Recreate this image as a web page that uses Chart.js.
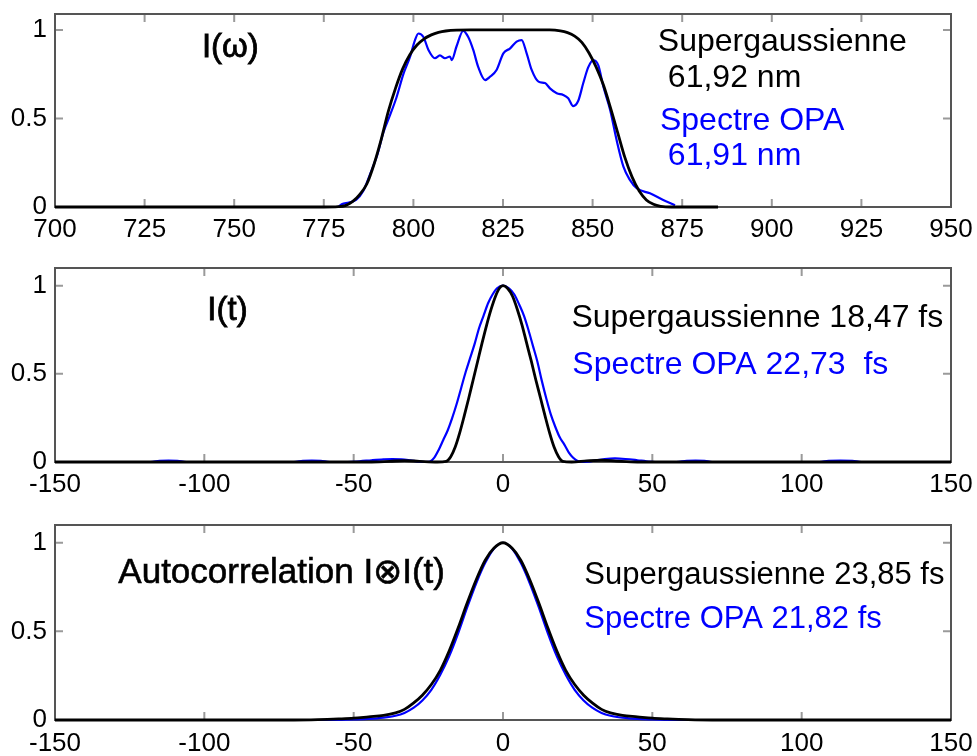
<!DOCTYPE html>
<html>
<head>
<meta charset="utf-8">
<script src="https://cdn.jsdelivr.net/npm/chart.js@4.4.1/dist/chart.umd.min.js"></script>
<style>
    html, body { margin: 0; padding: 0; background: #fff; }
    #wrap { position: relative; width: 977px; height: 756px; }
    canvas { position: absolute; left: 0; }
</style>
</head>
<body>
<div id="wrap">
    <canvas id="spectre" width="977" height="250" style="top:0"></canvas>
    <canvas id="impulsion" width="977" height="250" style="top:255px"></canvas>
    <canvas id="autocorr" width="977" height="245" style="top:511px"></canvas>
</div>
<script>
// Tick labels
var nmTicks = [700, 725, 750, 775, 800, 825, 850, 875, 900, 925, 950];
var fsTicks = [-150, -100, -50, 0, 50, 100, 150];
var yTicks = [0, 0.5, 1];

// I(omega) - supergaussienne (black)
var specSgX = [700, 775, 779, 781, 783, 785, 787, 789, 791, 793, 795, 797, 799, 801, 803, 805, 807, 809, 812, 816,
    838, 841, 843, 845, 847, 849, 851, 853, 855, 857, 859, 861, 863, 865, 867, 869, 872, 885];
var specSgY = [0, 0, 0.002, 0.008, 0.03, 0.07, 0.13, 0.24, 0.38, 0.54, 0.67, 0.78, 0.86, 0.915, 0.95, 0.972, 0.986, 0.994, 0.999, 1,
    1, 0.995, 0.985, 0.965, 0.93, 0.87, 0.79, 0.69, 0.56, 0.42, 0.28, 0.17, 0.09, 0.04, 0.015, 0.004, 0, 0];

// I(omega) - spectre OPA (blue)
var specOpaX = [779, 780, 782, 784, 786, 788, 790, 791.6, 793.5, 795.3, 797.2, 799.1, 800.4, 801.4, 802.8, 804.2, 806,
    807.4, 808.8, 810.2, 810.7, 812, 813.9, 815.3, 816.7, 818.1, 820, 821.4, 823.2, 825.1, 827, 828.8, 830.2, 831.6,
    833, 834.9, 836.7, 838.1, 840, 841.8, 843.2, 844.6, 846, 847.4, 848.8, 850.2, 851.6, 853, 854.9, 856.7, 858.6,
    860.4, 862.3, 866, 869.7, 873];
var specOpaY = [0, 0.015, 0.025, 0.04, 0.09, 0.19, 0.3, 0.42, 0.52, 0.62, 0.75, 0.85, 0.94, 0.98, 0.96, 0.887, 0.84,
    0.856, 0.84, 0.85, 0.83, 0.905, 0.995, 0.96, 0.887, 0.79, 0.717, 0.736, 0.774, 0.868, 0.896, 0.934, 0.943, 0.868,
    0.774, 0.708, 0.7, 0.67, 0.642, 0.633, 0.614, 0.57, 0.6, 0.7, 0.79, 0.83, 0.8, 0.68, 0.548, 0.378, 0.228,
    0.153, 0.106, 0.077, 0.04, 0.01];

// I(t) - supergaussienne (black)
var pulseSgX = [-150, -45, -38, -33, -28, -22, -19, -17.5, -16, -14.5, -13, -11.5, -10, -8.5, -7, -5.5, -4, -2.5, -1.2, 0,
    1.5, 3.2, 4.8, 6.4, 7.9, 9.5, 11, 12.6, 14.1, 15.6, 17.1, 18.6, 20, 23, 28, 33, 38, 45, 150];
var pulseSgY = [0, 0, 0.004, 0.008, 0.004, 0, 0.004, 0.03, 0.085, 0.165, 0.26, 0.36, 0.465, 0.57, 0.675, 0.775, 0.865, 0.94, 0.985, 1,
    0.985, 0.94, 0.865, 0.775, 0.675, 0.57, 0.465, 0.36, 0.26, 0.165, 0.085, 0.03, 0.004, 0, 0.006, 0.01, 0.005, 0, 0];

// I(t) - spectre OPA (blue)
var pulseOpaX = [-150, -118, -115, -112, -109, -106, -70, -67, -64, -61, -58, -52, -48, -44, -40, -37, -34, -31, -28, -26,
    -24.4, -23, -21.5, -20, -18.5, -17, -15.5, -14, -12.5, -11, -9.5, -8, -6.5, -5, -3.5, -2, 0,
    2, 3.8, 5.5, 7, 8.5, 10, 11.5, 13, 14.5, 16, 17.5, 19, 20.5, 22, 23.5, 25, 27,
    30, 34, 37.5, 41, 45, 48, 51, 58, 61.5, 64.5, 67.5, 70, 106, 109, 113, 117, 120, 150];
var pulseOpaY = [0, 0, 0.007, 0.008, 0.007, 0, 0, 0.007, 0.008, 0.007, 0, 0, 0.004, 0.01, 0.015, 0.017, 0.015, 0.009, 0.002, 0,
    0.003, 0.025, 0.07, 0.125, 0.18, 0.25, 0.33, 0.42, 0.51, 0.59, 0.67, 0.76, 0.83, 0.9, 0.95, 0.985, 1,
    0.985, 0.95, 0.89, 0.83, 0.75, 0.66, 0.57, 0.46, 0.36, 0.27, 0.2, 0.14, 0.1, 0.055, 0.024, 0.006, 0,
    0.006, 0.016, 0.02, 0.017, 0.01, 0.004, 0, 0, 0.007, 0.008, 0.007, 0, 0, 0.007, 0.008, 0.007, 0, 0];

// Autocorrelation (same time grid for both)
var acX = [-150, -70, -62, -55, -50, -45, -40, -36, -33, -30, -27, -24, -21, -18, -15, -12, -9, -6, -3, 0,
    3, 6, 9, 12, 15, 18, 21, 24, 27, 30, 33, 36, 40, 45, 50, 55, 62, 70, 150];
var acSgY = [0, 0, 0.002, 0.006, 0.01, 0.018, 0.026, 0.04, 0.06, 0.095, 0.14, 0.2, 0.28, 0.39, 0.52, 0.66, 0.79, 0.9, 0.97, 1,
    0.97, 0.9, 0.79, 0.66, 0.52, 0.39, 0.28, 0.2, 0.14, 0.095, 0.06, 0.04, 0.026, 0.018, 0.01, 0.006, 0.002, 0, 0];
var acOpaY = [0, 0, 0, 0.001, 0.003, 0.006, 0.013, 0.024, 0.04, 0.068, 0.11, 0.17, 0.255, 0.36, 0.49, 0.635, 0.77, 0.885, 0.968, 1,
    0.968, 0.885, 0.77, 0.635, 0.49, 0.36, 0.255, 0.17, 0.11, 0.068, 0.04, 0.024, 0.013, 0.006, 0.003, 0.001, 0, 0, 0];

var BLACK = '#000000';
var BLUE = '#0000ff';
var FONT = '"Liberation Sans", Arial, Helvetica, sans-serif';

function pts(xs, ys) {
    return xs.map(function(x, i) {
        return { x: x, y: ys[i] };
    });
}

// box + inward ticks, drawn under the curves
var frame = {
    id: 'frame',
    beforeDatasetsDraw: function(chart) {
        var ctx = chart.ctx;
        var a = chart.chartArea;
        var x = chart.scales.x;
        var y = chart.scales.y;
        var len = 8;
        ctx.save();
        ctx.strokeStyle = '#9a9a9a';
        ctx.lineWidth = 2;
        ctx.beginPath();
        x.ticks.forEach(function(t) {
            var px = x.getPixelForValue(t.value);
            ctx.moveTo(px, a.bottom);
            ctx.lineTo(px, a.bottom - len);
            ctx.moveTo(px, a.top);
            ctx.lineTo(px, a.top + len);
        });
        y.ticks.forEach(function(t) {
            var py = y.getPixelForValue(t.value);
            ctx.moveTo(a.left, py);
            ctx.lineTo(a.left + len, py);
            ctx.moveTo(a.right, py);
            ctx.lineTo(a.right - len, py);
        });
        ctx.stroke();
        ctx.strokeStyle = '#555';
        ctx.lineWidth = 2;
        ctx.strokeRect(a.left, a.top, a.right - a.left, a.bottom - a.top);
        ctx.restore();
    }
};

// text labels placed in data coordinates
var notes = {
    id: 'notes',
    afterDatasetsDraw: function(chart, args, opts) {
        var ctx = chart.ctx;
        var x = chart.scales.x;
        var y = chart.scales.y;
        ctx.save();
        ctx.textAlign = 'left';
        ctx.textBaseline = 'middle';
        (opts.items || []).forEach(function(n) {
            var px = x.getPixelForValue(n.x);
            var py = y.getPixelForValue(n.y);
            ctx.font = n.size + 'px ' + FONT;
            ctx.fillStyle = n.color;
            ctx.fillText(n.text, px, py);
            if (n.stroke) {
                ctx.lineWidth = n.stroke;
                ctx.strokeStyle = n.color;
                ctx.strokeText(n.text, px, py);
            }
        });
        ctx.restore();
    }
};

function makeChart(id, cfg) {
    return new Chart(document.getElementById(id), {
        type: 'line',
        data: {
            datasets: [{
                data: pts(cfg.blackX, cfg.blackY),
                borderColor: BLACK,
                borderWidth: 2.8
            }, {
                data: pts(cfg.blueX, cfg.blueY),
                borderColor: BLUE,
                borderWidth: 2.2
            }]
        },
        options: {
            responsive: false,
            animation: false,
            parsing: false,
            clip: false,
            elements: {
                point: { radius: 0 },
                line: { fill: false, cubicInterpolationMode: 'monotone' }
            },
            layout: { padding: { top: cfg.padTop, right: 26, left: 0, bottom: 0 } },
            plugins: {
                legend: { display: false },
                tooltip: { enabled: false },
                notes: { items: cfg.notes }
            },
            scales: {
                x: {
                    type: 'linear',
                    min: cfg.xTicks[0],
                    max: cfg.xTicks[cfg.xTicks.length - 1],
                    afterBuildTicks: function(s) {
                        s.ticks = cfg.xTicks.map(function(v) { return { value: v }; });
                    },
                    afterFit: function(s) {
                        s.height = cfg.axisH;
                        s.paddingLeft = 0;
                        s.paddingRight = 0;
                    },
                    grid: { display: false, drawTicks: false },
                    border: { display: false },
                    ticks: {
                        autoSkip: false,
                        maxRotation: 0,
                        padding: cfg.xPad,
                        color: '#000',
                        font: { family: FONT, size: 26 },
                        callback: function(v) { return String(v); }
                    }
                },
                y: {
                    type: 'linear',
                    min: 0,
                    max: cfg.yMax,
                    afterBuildTicks: function(s) {
                        s.ticks = yTicks.map(function(v) { return { value: v }; });
                    },
                    afterFit: function(s) {
                        s.width = 55;
                        s.paddingTop = 0;
                        s.paddingBottom = 0;
                    },
                    grid: { display: false, drawTicks: false },
                    border: { display: false },
                    ticks: {
                        padding: 8,
                        color: '#000',
                        font: { family: FONT, size: 26 },
                        callback: function(v) { return String(v); }
                    }
                }
            }
        },
        plugins: [frame, notes]
    });
}

makeChart('spectre', {
    blackX: specSgX, blackY: specSgY, blueX: specOpaX, blueY: specOpaY,
    xTicks: nmTicks, yMax: 1.09, padTop: 14, axisH: 43, xPad: 7,
    notes: [
        { text: 'I(\u03c9)', x: 741, y: 0.9, size: 33, color: BLACK, stroke: 0.8 },
        { text: 'Supergaussienne', x: 868.2, y: 0.93, size: 32, color: BLACK },
        { text: '61,92 nm', x: 871, y: 0.73, size: 32, color: BLACK },
        { text: 'Spectre OPA', x: 868.8, y: 0.486, size: 32, color: BLUE },
        { text: '61,91 nm', x: 871, y: 0.288, size: 32, color: BLUE }
    ]
});

makeChart('impulsion', {
    blackX: pulseSgX, blackY: pulseSgY, blueX: pulseOpaX, blueY: pulseOpaY,
    xTicks: fsTicks, yMax: 1.1, padTop: 13, axisH: 43, xPad: 7,
    notes: [
        { text: 'I(t)', x: -99, y: 0.856, size: 33, color: BLACK, stroke: 0.8 },
        { text: 'Supergaussienne 18,47 fs', x: 22.9, y: 0.816, size: 32, color: BLACK },
        { text: 'Spectre OPA 22,73  fs', x: 23.2, y: 0.55, size: 32, color: BLUE }
    ]
});

makeChart('autocorr', {
    blackX: acX, blackY: acSgY, blueX: acX, blueY: acOpaY,
    xTicks: fsTicks, yMax: 1.1, padTop: 14, axisH: 36, xPad: 8,
    notes: [
        { text: 'Autocorrelation I\u2297I(t)', x: -128.8, y: 0.83, size: 35, color: BLACK, stroke: 0.6 },
        { text: 'Supergaussienne 23,85 fs', x: 27.2, y: 0.818, size: 31, color: BLACK },
        { text: 'Spectre OPA 21,82 fs', x: 27.2, y: 0.57, size: 31, color: BLUE }
    ]
});
</script>
</body>
</html>
